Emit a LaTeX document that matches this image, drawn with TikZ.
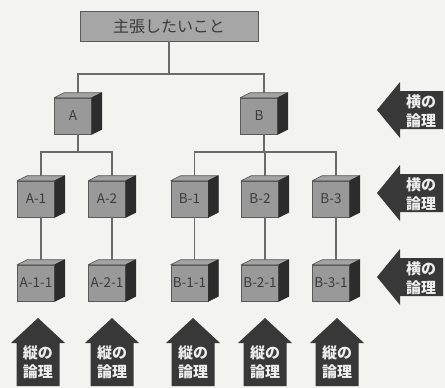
\documentclass[tikz,border=0pt]{standalone}
\usepackage{fontspec}
\setmainfont{Noto Sans CJK JP}
\usetikzlibrary{calc}

\definecolor{paper}{HTML}{F3F3F1}
\definecolor{frontface}{HTML}{999999}
\definecolor{topface}{HTML}{A3A3A3}
\definecolor{sideface}{HTML}{2C2C2C}
\definecolor{edge}{HTML}{5A5A5A}
\definecolor{wirecol}{HTML}{6A6A6A}
\definecolor{labelink}{HTML}{3C3C3C}
\definecolor{arrowfill}{HTML}{383838}
\definecolor{arrowink}{HTML}{EDEDED}
\definecolor{claimfill}{HTML}{A6A6A6}

\begin{document}
\begin{tikzpicture}[x=1pt,y=-1pt,
  cube/.style={draw=edge, line width=0.6pt, fill=frontface,
    minimum width=37pt, minimum height=36pt, inner sep=0pt,
    text=labelink, font=\fontsize{13.5}{15}\selectfont},
  claimbox/.style={draw=edge, line width=0.8pt, fill=claimfill,
    minimum width=178pt, minimum height=30pt, inner sep=0pt,
    text=labelink, font=\fontsize{16}{18}\selectfont},
  wire/.style={draw=wirecol, line width=1.1pt},
  topshade/.style={draw=edge, line width=0.6pt, fill=topface, line join=round},
  sideshade/.style={draw=sideface, line width=0.6pt, fill=sideface, line join=round},
  bigarrow/.style={fill=arrowfill},
  arrowtext/.style={text=arrowink, align=center, inner sep=0pt,
    font=\bfseries\fontsize{15}{19}\selectfont}
]
% page
\fill[paper] (0,0) rectangle (445,388);
\useasboundingbox (0,0) rectangle (445,388);

% top statement
\node[claimbox] (claim) at (169,26) {主張したいこと};

% first level
\node[cube] (A) at (73,116) {A};
\node[cube] (B) at (259,116) {B};

% second level
\node[cube] (A1) at (36,199) {A-1};
\node[cube] (A2) at (107,199) {A-2};
\node[cube] (B1) at (189.5,199) {B-1};
\node[cube] (B2) at (260,199) {B-2};
\node[cube] (B3) at (331,199) {B-3};

% third level
\node[cube] (A11) at (36,283) {A-1-1};
\node[cube] (A21) at (107,283) {A-2-1};
\node[cube] (B11) at (189.5,283) {B-1-1};
\node[cube] (B21) at (260,283) {B-2-1};
\node[cube] (B31) at (331,283) {B-3-1};

% top and side faces of each block, plus attachment points
\foreach \n in {A,B,A1,A2,B1,B2,B3,A11,A21,B11,B21,B31}{
  \filldraw[topshade] (\n.north west) -- ++(10,-5)
      -- ($(\n.north east)+(10,-5)$) -- (\n.north east) -- cycle;
  \filldraw[sideshade] (\n.north east) -- ++(10,-5)
      -- ($(\n.south east)+(10,-5)$) -- (\n.south east) -- cycle;
  \coordinate (\n-t) at ($(\n.north)+(5,-5)$);
  \coordinate (\n-b) at ($(\n.south)+(5,0)$);
}

% connectors
\coordinate (bus0) at (169,74);
\coordinate (bus1) at (169,152);
\draw[wire] (claim.south) -- (bus0);
\draw[wire] (A-t) -- (A-t |- bus0) -- (B-t |- bus0) -- (B-t);

\draw[wire] (A-b) -- (A-b |- bus1);
\draw[wire] (A1-t) -- (A1-t |- bus1) -- (A2-t |- bus1) -- (A2-t);
\draw[wire] (B-b) -- (B-b |- bus1);
\draw[wire] (B1-t) -- (B1-t |- bus1) -- (B3-t |- bus1) -- (B3-t);
\draw[wire] (B2-t) -- (B2-t |- bus1);

\draw[wire] (A1-b) -- (A11-t);
\draw[wire] (A2-b) -- (A21-t);
\draw[wire] (B1-b) -- (B11-t);
\draw[wire] (B2-b) -- (B21-t);
\draw[wire] (B3-b) -- (B31-t);

% horizontal-logic arrows on the right
\foreach \c [count=\i] in {110,193,277}{
  \fill[bigarrow] (377,\c) -- (400,\c-28) -- (400,\c-19) -- (443,\c-19)
      -- (443,\c+19) -- (400,\c+19) -- (400,\c+28) -- cycle;
  \node[arrowtext] (h\i) at (421,\c+1) {横の\\論理};
}

% vertical-logic arrows along the bottom
\foreach \c [count=\i] in {38,112,193,265,337}{
  \fill[bigarrow] (\c,318) -- (\c+27,343) -- (\c+21.5,343) -- (\c+21.5,386)
      -- (\c-21.5,386) -- (\c-21.5,343) -- (\c-27,343) -- cycle;
  \node[arrowtext] (v\i) at (\c,362) {縦の\\論理};
}
\end{tikzpicture}
\end{document}
